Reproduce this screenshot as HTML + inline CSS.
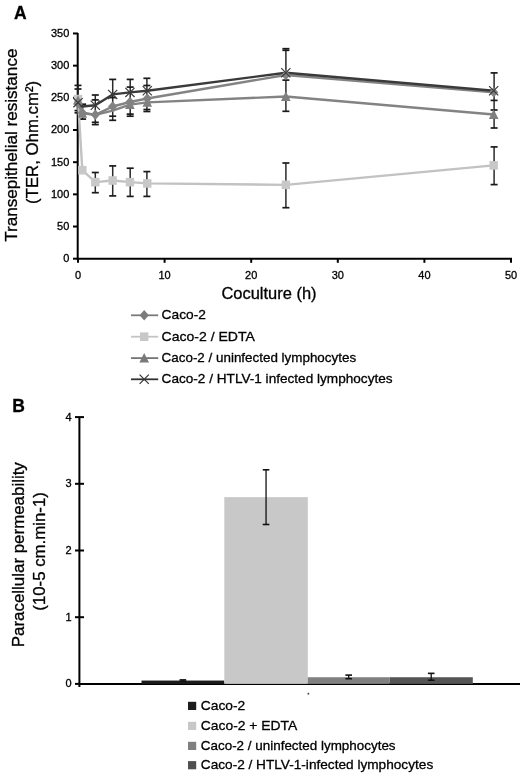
<!DOCTYPE html>
<html><head><meta charset="utf-8"><style>
html,body{margin:0;padding:0;background:#fff;}
body{width:520px;height:777px;overflow:hidden;font-family:"Liberation Sans",sans-serif;}
svg{display:block;filter:grayscale(1);}
text{stroke:#000;stroke-width:0.3px;}
</style></head><body>
<svg width="520" height="777" viewBox="0 0 520 777">
<rect width="520" height="777" fill="#fff"/>
<line x1="77.7" y1="33" x2="77.7" y2="259.7" stroke="#000" stroke-width="2"/>
<line x1="76.7" y1="258.7" x2="512" y2="258.7" stroke="#000" stroke-width="2"/>
<line x1="73" y1="258.70" x2="78" y2="258.70" stroke="#000" stroke-width="2"/>
<text x="69.3" y="262.10" text-anchor="end" font-size="11" font-family="Liberation Sans, sans-serif">0</text>
<line x1="73" y1="226.52" x2="78" y2="226.52" stroke="#000" stroke-width="2"/>
<text x="69.3" y="229.92" text-anchor="end" font-size="11" font-family="Liberation Sans, sans-serif">50</text>
<line x1="73" y1="194.35" x2="78" y2="194.35" stroke="#000" stroke-width="2"/>
<text x="69.3" y="197.75" text-anchor="end" font-size="11" font-family="Liberation Sans, sans-serif">100</text>
<line x1="73" y1="162.18" x2="78" y2="162.18" stroke="#000" stroke-width="2"/>
<text x="69.3" y="165.58" text-anchor="end" font-size="11" font-family="Liberation Sans, sans-serif">150</text>
<line x1="73" y1="130.00" x2="78" y2="130.00" stroke="#000" stroke-width="2"/>
<text x="69.3" y="133.40" text-anchor="end" font-size="11" font-family="Liberation Sans, sans-serif">200</text>
<line x1="73" y1="97.82" x2="78" y2="97.82" stroke="#000" stroke-width="2"/>
<text x="69.3" y="101.22" text-anchor="end" font-size="11" font-family="Liberation Sans, sans-serif">250</text>
<line x1="73" y1="65.65" x2="78" y2="65.65" stroke="#000" stroke-width="2"/>
<text x="69.3" y="69.05" text-anchor="end" font-size="11" font-family="Liberation Sans, sans-serif">300</text>
<line x1="73" y1="33.47" x2="78" y2="33.47" stroke="#000" stroke-width="2"/>
<text x="69.3" y="36.87" text-anchor="end" font-size="11" font-family="Liberation Sans, sans-serif">350</text>
<line x1="78.00" y1="258" x2="78.00" y2="262.8" stroke="#000" stroke-width="2"/>
<text x="78.00" y="278.6" text-anchor="middle" font-size="11" font-family="Liberation Sans, sans-serif">0</text>
<line x1="164.60" y1="258" x2="164.60" y2="262.8" stroke="#000" stroke-width="2"/>
<text x="164.60" y="278.6" text-anchor="middle" font-size="11" font-family="Liberation Sans, sans-serif">10</text>
<line x1="251.20" y1="258" x2="251.20" y2="262.8" stroke="#000" stroke-width="2"/>
<text x="251.20" y="278.6" text-anchor="middle" font-size="11" font-family="Liberation Sans, sans-serif">20</text>
<line x1="337.80" y1="258" x2="337.80" y2="262.8" stroke="#000" stroke-width="2"/>
<text x="337.80" y="278.6" text-anchor="middle" font-size="11" font-family="Liberation Sans, sans-serif">30</text>
<line x1="424.40" y1="258" x2="424.40" y2="262.8" stroke="#000" stroke-width="2"/>
<text x="424.40" y="278.6" text-anchor="middle" font-size="11" font-family="Liberation Sans, sans-serif">40</text>
<line x1="511.00" y1="258" x2="511.00" y2="262.8" stroke="#000" stroke-width="2"/>
<text x="511.00" y="278.6" text-anchor="middle" font-size="11" font-family="Liberation Sans, sans-serif">50</text>
<text x="13.9" y="19" font-size="17.5" font-weight="bold" font-family="Liberation Sans, sans-serif">A</text>
<text transform="translate(16.9,145.2) rotate(-90)" text-anchor="middle" font-size="16.9" textLength="193.3" lengthAdjust="spacingAndGlyphs" font-family="Liberation Sans, sans-serif">Transepithelial resistance</text>
<text transform="translate(38.1,142.4) rotate(-90)" text-anchor="middle" font-size="16.8" font-family="Liberation Sans, sans-serif">(TER, Ohm.cm²)</text>
<text x="221.4" y="298.8" font-size="16.2" textLength="95.2" lengthAdjust="spacingAndGlyphs" font-family="Liberation Sans, sans-serif">Coculture (h)</text>
<line x1="78.00" y1="85.40" x2="78.00" y2="112.80" stroke="#2a2a2a" stroke-width="1.5"/>
<line x1="74.50" y1="85.40" x2="81.50" y2="85.40" stroke="#1a1a1a" stroke-width="1.7"/>
<line x1="74.50" y1="89.00" x2="81.50" y2="89.00" stroke="#1a1a1a" stroke-width="1.7"/>
<line x1="74.50" y1="110.60" x2="81.50" y2="110.60" stroke="#1a1a1a" stroke-width="1.7"/>
<line x1="74.50" y1="112.80" x2="81.50" y2="112.80" stroke="#1a1a1a" stroke-width="1.7"/>
<line x1="82.60" y1="104.20" x2="82.60" y2="119.10" stroke="#2a2a2a" stroke-width="1.5"/>
<line x1="79.10" y1="104.20" x2="86.10" y2="104.20" stroke="#1a1a1a" stroke-width="1.7"/>
<line x1="79.10" y1="119.10" x2="86.10" y2="119.10" stroke="#1a1a1a" stroke-width="1.7"/>
<line x1="95.30" y1="95.00" x2="95.30" y2="124.60" stroke="#2a2a2a" stroke-width="1.5"/>
<line x1="91.80" y1="95.00" x2="98.80" y2="95.00" stroke="#1a1a1a" stroke-width="1.7"/>
<line x1="91.80" y1="99.90" x2="98.80" y2="99.90" stroke="#1a1a1a" stroke-width="1.7"/>
<line x1="91.80" y1="122.30" x2="98.80" y2="122.30" stroke="#1a1a1a" stroke-width="1.7"/>
<line x1="91.80" y1="124.60" x2="98.80" y2="124.60" stroke="#1a1a1a" stroke-width="1.7"/>
<line x1="112.70" y1="79.40" x2="112.70" y2="120.30" stroke="#2a2a2a" stroke-width="1.5"/>
<line x1="109.20" y1="79.40" x2="116.20" y2="79.40" stroke="#1a1a1a" stroke-width="1.7"/>
<line x1="109.20" y1="97.60" x2="116.20" y2="97.60" stroke="#1a1a1a" stroke-width="1.7"/>
<line x1="109.20" y1="116.20" x2="116.20" y2="116.20" stroke="#1a1a1a" stroke-width="1.7"/>
<line x1="109.20" y1="120.30" x2="116.20" y2="120.30" stroke="#1a1a1a" stroke-width="1.7"/>
<line x1="130.20" y1="79.40" x2="130.20" y2="116.20" stroke="#2a2a2a" stroke-width="1.5"/>
<line x1="126.70" y1="79.40" x2="133.70" y2="79.40" stroke="#1a1a1a" stroke-width="1.7"/>
<line x1="126.70" y1="87.10" x2="133.70" y2="87.10" stroke="#1a1a1a" stroke-width="1.7"/>
<line x1="126.70" y1="114.10" x2="133.70" y2="114.10" stroke="#1a1a1a" stroke-width="1.7"/>
<line x1="126.70" y1="116.20" x2="133.70" y2="116.20" stroke="#1a1a1a" stroke-width="1.7"/>
<line x1="146.90" y1="78.30" x2="146.90" y2="111.50" stroke="#2a2a2a" stroke-width="1.5"/>
<line x1="143.40" y1="78.30" x2="150.40" y2="78.30" stroke="#1a1a1a" stroke-width="1.7"/>
<line x1="143.40" y1="85.50" x2="150.40" y2="85.50" stroke="#1a1a1a" stroke-width="1.7"/>
<line x1="143.40" y1="109.50" x2="150.40" y2="109.50" stroke="#1a1a1a" stroke-width="1.7"/>
<line x1="143.40" y1="111.50" x2="150.40" y2="111.50" stroke="#1a1a1a" stroke-width="1.7"/>
<line x1="285.90" y1="48.70" x2="285.90" y2="111.30" stroke="#2a2a2a" stroke-width="1.5"/>
<line x1="282.40" y1="48.70" x2="289.40" y2="48.70" stroke="#1a1a1a" stroke-width="1.7"/>
<line x1="282.40" y1="50.30" x2="289.40" y2="50.30" stroke="#1a1a1a" stroke-width="1.7"/>
<line x1="282.40" y1="80.10" x2="289.40" y2="80.10" stroke="#1a1a1a" stroke-width="1.7"/>
<line x1="282.40" y1="111.30" x2="289.40" y2="111.30" stroke="#1a1a1a" stroke-width="1.7"/>
<line x1="494.10" y1="72.90" x2="494.10" y2="128.00" stroke="#2a2a2a" stroke-width="1.5"/>
<line x1="490.60" y1="72.90" x2="497.60" y2="72.90" stroke="#1a1a1a" stroke-width="1.7"/>
<line x1="490.60" y1="100.40" x2="497.60" y2="100.40" stroke="#1a1a1a" stroke-width="1.7"/>
<line x1="490.60" y1="110.00" x2="497.60" y2="110.00" stroke="#1a1a1a" stroke-width="1.7"/>
<line x1="490.60" y1="128.00" x2="497.60" y2="128.00" stroke="#1a1a1a" stroke-width="1.7"/>
<line x1="95.30" y1="172.50" x2="95.30" y2="192.70" stroke="#2a2a2a" stroke-width="1.5"/>
<line x1="91.80" y1="172.50" x2="98.80" y2="172.50" stroke="#1a1a1a" stroke-width="1.7"/>
<line x1="91.80" y1="192.70" x2="98.80" y2="192.70" stroke="#1a1a1a" stroke-width="1.7"/>
<line x1="112.70" y1="165.90" x2="112.70" y2="195.90" stroke="#2a2a2a" stroke-width="1.5"/>
<line x1="109.20" y1="165.90" x2="116.20" y2="165.90" stroke="#1a1a1a" stroke-width="1.7"/>
<line x1="109.20" y1="195.90" x2="116.20" y2="195.90" stroke="#1a1a1a" stroke-width="1.7"/>
<line x1="130.20" y1="168.20" x2="130.20" y2="196.40" stroke="#2a2a2a" stroke-width="1.5"/>
<line x1="126.70" y1="168.20" x2="133.70" y2="168.20" stroke="#1a1a1a" stroke-width="1.7"/>
<line x1="126.70" y1="196.40" x2="133.70" y2="196.40" stroke="#1a1a1a" stroke-width="1.7"/>
<line x1="146.90" y1="171.60" x2="146.90" y2="196.40" stroke="#2a2a2a" stroke-width="1.5"/>
<line x1="143.40" y1="171.60" x2="150.40" y2="171.60" stroke="#1a1a1a" stroke-width="1.7"/>
<line x1="143.40" y1="196.40" x2="150.40" y2="196.40" stroke="#1a1a1a" stroke-width="1.7"/>
<line x1="285.90" y1="163.00" x2="285.90" y2="207.70" stroke="#2a2a2a" stroke-width="1.5"/>
<line x1="282.40" y1="163.00" x2="289.40" y2="163.00" stroke="#1a1a1a" stroke-width="1.7"/>
<line x1="282.40" y1="207.70" x2="289.40" y2="207.70" stroke="#1a1a1a" stroke-width="1.7"/>
<line x1="494.10" y1="146.90" x2="494.10" y2="184.60" stroke="#2a2a2a" stroke-width="1.5"/>
<line x1="490.60" y1="146.90" x2="497.60" y2="146.90" stroke="#1a1a1a" stroke-width="1.7"/>
<line x1="490.60" y1="184.60" x2="497.60" y2="184.60" stroke="#1a1a1a" stroke-width="1.7"/>
<polyline points="78.00,99.11 82.33,170.22 95.32,182.12 112.64,180.51 129.96,182.12 147.28,183.41 285.84,184.83 493.68,165.39" fill="none" stroke="#c2c2c2" stroke-width="2.4" stroke-linejoin="round"/>
<polyline points="78.00,100.40 82.33,113.27 95.32,114.81 112.64,110.69 129.96,104.58 147.28,102.33 285.84,96.54 493.68,114.56" fill="none" stroke="#838383" stroke-width="2.4" stroke-linejoin="round"/>
<polyline points="78.00,103.62 82.33,112.63 95.32,114.81 112.64,106.51 129.96,102.01 147.28,98.47 285.84,74.98 493.68,92.36" fill="none" stroke="#838383" stroke-width="2.4" stroke-linejoin="round"/>
<polyline points="78.00,102.65 82.33,106.51 95.32,105.29 112.64,94.41 129.96,92.42 147.28,90.75 285.84,72.73 493.68,90.75" fill="none" stroke="#3a3a3a" stroke-width="2.4" stroke-linejoin="round"/>
<rect x="73.80" y="94.81" width="8.4" height="8.6" fill="#c8c8c8"/>
<rect x="78.13" y="165.92" width="8.4" height="8.6" fill="#c8c8c8"/>
<rect x="91.12" y="177.82" width="8.4" height="8.6" fill="#c8c8c8"/>
<rect x="108.44" y="176.21" width="8.4" height="8.6" fill="#c8c8c8"/>
<rect x="125.76" y="177.82" width="8.4" height="8.6" fill="#c8c8c8"/>
<rect x="143.08" y="179.11" width="8.4" height="8.6" fill="#c8c8c8"/>
<rect x="281.64" y="180.53" width="8.4" height="8.6" fill="#c8c8c8"/>
<rect x="489.48" y="161.09" width="8.4" height="8.6" fill="#c8c8c8"/>
<polygon points="78.00,95.20 82.80,104.80 73.20,104.80" fill="#808080"/>
<polygon points="82.33,108.07 87.13,117.67 77.53,117.67" fill="#808080"/>
<polygon points="129.96,99.38 134.76,108.98 125.16,108.98" fill="#808080"/>
<polygon points="147.28,97.13 152.08,106.73 142.48,106.73" fill="#808080"/>
<polygon points="285.84,91.34 290.64,100.94 281.04,100.94" fill="#808080"/>
<polygon points="493.68,109.36 498.48,118.96 488.88,118.96" fill="#808080"/>
<polygon points="78.00,98.42 82.60,103.62 78.00,108.82 73.40,103.62" fill="#828282"/>
<polygon points="82.33,107.43 86.93,112.63 82.33,117.83 77.73,112.63" fill="#828282"/>
<polygon points="95.32,109.61 99.92,114.81 95.32,120.01 90.72,114.81" fill="#828282"/>
<polygon points="112.64,101.31 117.24,106.51 112.64,111.71 108.04,106.51" fill="#828282"/>
<polygon points="129.96,96.81 134.56,102.01 129.96,107.21 125.36,102.01" fill="#828282"/>
<polygon points="147.28,93.27 151.88,98.47 147.28,103.67 142.68,98.47" fill="#828282"/>
<polygon points="285.84,69.78 290.44,74.98 285.84,80.18 281.24,74.98" fill="#828282"/>
<polygon points="493.68,87.16 498.28,92.36 493.68,97.56 489.08,92.36" fill="#828282"/>
<path d="M73.40,98.05 L82.60,107.25 M82.60,98.05 L73.40,107.25" stroke="#3a3a3a" stroke-width="1.2" fill="none"/>
<path d="M90.72,100.69 L99.92,109.89 M99.92,100.69 L90.72,109.89" stroke="#3a3a3a" stroke-width="1.2" fill="none"/>
<path d="M108.04,89.81 L117.24,99.01 M117.24,89.81 L108.04,99.01" stroke="#3a3a3a" stroke-width="1.2" fill="none"/>
<path d="M125.36,87.82 L134.56,97.02 M134.56,87.82 L125.36,97.02" stroke="#3a3a3a" stroke-width="1.2" fill="none"/>
<path d="M142.68,86.15 L151.88,95.35 M151.88,86.15 L142.68,95.35" stroke="#3a3a3a" stroke-width="1.2" fill="none"/>
<path d="M281.24,68.13 L290.44,77.33 M290.44,68.13 L281.24,77.33" stroke="#3a3a3a" stroke-width="1.2" fill="none"/>
<path d="M489.08,86.15 L498.28,95.35 M498.28,86.15 L489.08,95.35" stroke="#3a3a3a" stroke-width="1.2" fill="none"/>
<line x1="131" y1="315.30" x2="158.2" y2="315.30" stroke="#7a7a7a" stroke-width="1.8"/>
<polygon points="144.20,310.10 148.80,315.30 144.20,320.50 139.60,315.30" fill="#7c7c7c"/>
<text x="161.6" y="319.1" font-size="13.5" textLength="44.3" lengthAdjust="spacingAndGlyphs" font-family="Liberation Sans, sans-serif">Caco-2</text>
<line x1="131" y1="336.70" x2="158.2" y2="336.70" stroke="#c4c4c4" stroke-width="1.8"/>
<rect x="140.00" y="332.40" width="8.4" height="8.6" fill="#c8c8c8"/>
<text x="161.6" y="340.5" font-size="13.5" textLength="93.3" lengthAdjust="spacingAndGlyphs" font-family="Liberation Sans, sans-serif">Caco-2 / EDTA</text>
<line x1="131" y1="358.10" x2="158.2" y2="358.10" stroke="#767676" stroke-width="1.8"/>
<polygon points="144.20,352.90 149.00,362.50 139.40,362.50" fill="#7a7a7a"/>
<text x="161.6" y="361.9" font-size="13.5" textLength="194.5" lengthAdjust="spacingAndGlyphs" font-family="Liberation Sans, sans-serif">Caco-2 / uninfected lymphocytes</text>
<line x1="131" y1="379.30" x2="158.2" y2="379.30" stroke="#333" stroke-width="1.8"/>
<path d="M139.60,374.70 L148.80,383.90 M148.80,374.70 L139.60,383.90" stroke="#333" stroke-width="1.2" fill="none"/>
<text x="161.6" y="383.1" font-size="13.5" textLength="231" lengthAdjust="spacingAndGlyphs" font-family="Liberation Sans, sans-serif">Caco-2 / HTLV-1 infected lymphocytes</text>
<text x="12.3" y="411.7" font-size="17.5" font-weight="bold" font-family="Liberation Sans, sans-serif">B</text>
<line x1="79.4" y1="416.9" x2="79.4" y2="687" stroke="#000" stroke-width="2"/>
<line x1="78.4" y1="683.9" x2="520" y2="683.9" stroke="#000" stroke-width="2"/>
<line x1="75" y1="683.90" x2="80.0" y2="683.90" stroke="#000" stroke-width="2"/>
<text x="71.5" y="687.30" text-anchor="end" font-size="11" font-family="Liberation Sans, sans-serif">0</text>
<line x1="75" y1="617.20" x2="84.0" y2="617.20" stroke="#000" stroke-width="2"/>
<text x="71.5" y="620.60" text-anchor="end" font-size="11" font-family="Liberation Sans, sans-serif">1</text>
<line x1="75" y1="550.50" x2="84.0" y2="550.50" stroke="#000" stroke-width="2"/>
<text x="71.5" y="553.90" text-anchor="end" font-size="11" font-family="Liberation Sans, sans-serif">2</text>
<line x1="75" y1="483.80" x2="84.0" y2="483.80" stroke="#000" stroke-width="2"/>
<text x="71.5" y="487.20" text-anchor="end" font-size="11" font-family="Liberation Sans, sans-serif">3</text>
<line x1="75" y1="417.10" x2="84.0" y2="417.10" stroke="#000" stroke-width="2"/>
<text x="71.5" y="420.50" text-anchor="end" font-size="11" font-family="Liberation Sans, sans-serif">4</text>
<text transform="translate(23.6,554.7) rotate(-90)" text-anchor="middle" font-size="16.8" textLength="185" lengthAdjust="spacingAndGlyphs" font-family="Liberation Sans, sans-serif">Paracellular permeability</text>
<text transform="translate(44.7,551.4) rotate(-90)" text-anchor="middle" font-size="16.7" textLength="118.6" lengthAdjust="spacingAndGlyphs" font-family="Liberation Sans, sans-serif">(10-5 cm.min-1)</text>
<rect x="141.5" y="680.56" width="82.80" height="3.34" fill="#1c1c1c"/>
<rect x="224.3" y="497.14" width="83.50" height="186.76" fill="#c8c8c8"/>
<rect x="307.8" y="677.23" width="81.80" height="6.67" fill="#808080"/>
<rect x="389.6" y="677.23" width="83.20" height="6.67" fill="#555555"/>
<line x1="182.90" y1="679.90" x2="182.90" y2="681.23" stroke="#111" stroke-width="1.3"/>
<line x1="179.60" y1="679.90" x2="186.20" y2="679.90" stroke="#111" stroke-width="1.6"/>
<line x1="179.60" y1="681.23" x2="186.20" y2="681.23" stroke="#111" stroke-width="1.6"/>
<line x1="266.05" y1="469.79" x2="266.05" y2="524.49" stroke="#111" stroke-width="1.3"/>
<line x1="262.75" y1="469.79" x2="269.35" y2="469.79" stroke="#111" stroke-width="1.6"/>
<line x1="262.75" y1="524.49" x2="269.35" y2="524.49" stroke="#111" stroke-width="1.6"/>
<line x1="348.70" y1="675.10" x2="348.70" y2="678.70" stroke="#111" stroke-width="1.3"/>
<line x1="345.40" y1="675.10" x2="352.00" y2="675.10" stroke="#111" stroke-width="1.6"/>
<line x1="345.40" y1="678.70" x2="352.00" y2="678.70" stroke="#111" stroke-width="1.6"/>
<line x1="431.20" y1="673.36" x2="431.20" y2="680.23" stroke="#111" stroke-width="1.3"/>
<line x1="427.90" y1="673.36" x2="434.50" y2="673.36" stroke="#111" stroke-width="1.6"/>
<line x1="427.90" y1="680.23" x2="434.50" y2="680.23" stroke="#111" stroke-width="1.6"/>
<circle cx="308.4" cy="693.7" r="0.9" fill="#333"/>
<rect x="188" y="701.80" width="8.2" height="8.2" fill="#1c1c1c"/>
<text x="200.8" y="709.6" font-size="13.5" textLength="44.5" lengthAdjust="spacingAndGlyphs" font-family="Liberation Sans, sans-serif">Caco-2</text>
<rect x="188" y="721.80" width="8.2" height="8.2" fill="#c8c8c8"/>
<text x="200.8" y="729.6" font-size="13.5" textLength="96.5" lengthAdjust="spacingAndGlyphs" font-family="Liberation Sans, sans-serif">Caco-2 + EDTA</text>
<rect x="188" y="741.80" width="8.2" height="8.2" fill="#808080"/>
<text x="200.8" y="749.6" font-size="13.5" textLength="194.8" lengthAdjust="spacingAndGlyphs" font-family="Liberation Sans, sans-serif">Caco-2 / uninfected lymphocytes</text>
<rect x="188" y="761.10" width="8.2" height="8.2" fill="#505050"/>
<text x="200.8" y="768.9" font-size="13.5" textLength="232.4" lengthAdjust="spacingAndGlyphs" font-family="Liberation Sans, sans-serif">Caco-2 / HTLV-1-infected lymphocytes</text>
</svg>
</body></html>
